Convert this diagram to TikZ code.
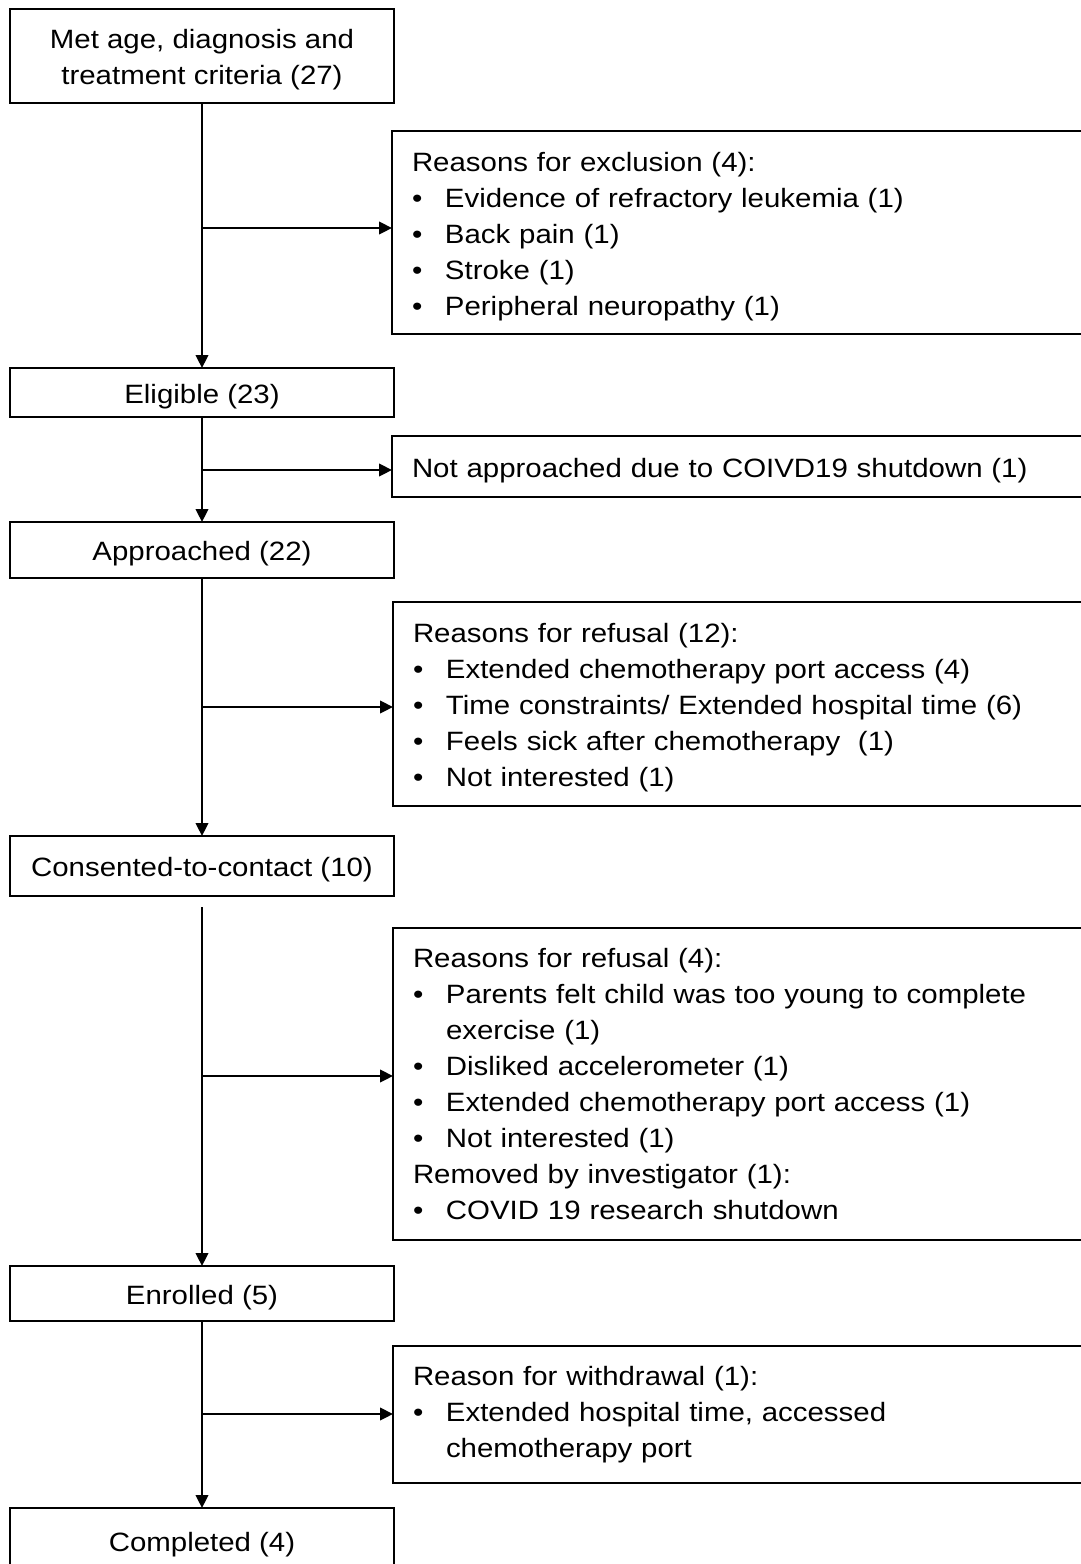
\documentclass[tikz,border=0pt]{standalone}
\usepackage{fontspec}
\setmainfont[FakeStretch=1.11]{Liberation Sans}
\usetikzlibrary{arrows.meta}
\newcommand{\bl}{\makebox[33pt][l]{\textbullet}}
\newcommand{\cont}{\hspace*{33pt}}
\newcommand{\tp}{\rule{0pt}{27pt}}
\newcommand{\tq}{\rule{0pt}{19pt}}
\tikzset{
  mainbox/.style={draw, line width=2.6pt, outer sep=0pt, inner sep=0pt,
    minimum width=384pt, align=center, font=\fontsize{26.5}{36}\selectfont},
  sidebox/.style={draw, line width=2.6pt, outer sep=0pt, anchor=west,
    inner xsep=20pt, inner ysep=0pt, text width=680pt, align=left,
    font=\fontsize{26.5}{36}\selectfont},
  arr/.style={line width=2.4pt, -{Triangle[length=13pt,width=12.5pt]}}
}
\begin{document}
\begin{tikzpicture}[x=1pt,y=-1pt]
\useasboundingbox (0,0) rectangle (1081,1564);
\clip (0,0) rectangle (1081,1564);
\fill[white] (0,0) rectangle (1081,1564);

% main column
\node[mainbox, minimum height=94pt] (met) at (202,56)
  {\tp Met age, diagnosis and\\treatment criteria (27)};
\node[mainbox, minimum height=49pt] (elig) at (202,392.5) {\tp Eligible (23)};
\node[mainbox, minimum height=56pt] (appr) at (202,550) {\tp Approached (22)};
\node[mainbox, minimum height=60pt] (cons) at (202,866) {\tp Consented-to-contact (10)};
\node[mainbox, minimum height=55pt] (enr) at (202,1293.5) {\tp Enrolled (5)};
\node[mainbox, minimum height=66pt] (comp) at (202,1541) {\tp Completed (4)};

% side boxes
\node[sidebox, minimum height=203pt] (excl) at (392,232.5)
  {\tp Reasons for exclusion (4):\\
   \bl Evidence of refractory leukemia (1)\\
   \bl Back pain (1)\\
   \bl Stroke (1)\\
   \bl Peripheral neuropathy (1)};
\node[sidebox, minimum height=61pt] (napp) at (392,466.5)
  {\tp Not approached due to COIVD19 shutdown (1)};
\node[sidebox, minimum height=204pt] (ref1) at (393,704)
  {\tp Reasons for refusal (12):\\
   \bl Extended chemotherapy port access (4)\\
   \bl Time constraints/ Extended hospital time (6)\\
   \bl Feels sick after chemotherapy~ (1)\\
   \bl Not interested (1)};
\node[sidebox, minimum height=312pt] (ref2) at (393,1084)
  {\tq Reasons for refusal (4):\\
   \bl Parents felt child was too young to complete\\
   \cont exercise (1)\\
   \bl Disliked accelerometer (1)\\
   \bl Extended chemotherapy port access (1)\\
   \bl Not interested (1)\\
   Removed by investigator (1):\\
   \bl COVID 19 research shutdown};
\node[sidebox, minimum height=137pt] (wd) at (393,1414.5)
  {\tq Reason for withdrawal (1):\\
   \bl Extended hospital time, accessed\\
   \cont chemotherapy port};

% junctions
\coordinate (j1) at (202,228);
\coordinate (j2) at (202,470);
\coordinate (j3) at (202,707);
\coordinate (s4) at (202,907);
\coordinate (j4) at (202,1076);
\coordinate (j5) at (202,1414);

% spine
\draw[arr] (met.south) -- (elig.north);
\draw[arr] (elig.south) -- (appr.north);
\draw[arr] (appr.south) -- (cons.north);
\draw[arr] (s4) -- (enr.north);
\draw[arr] (enr.south) -- (comp.north);

% branches
\draw[arr] (j1) -- (j1 -| excl.west);
\draw[arr] (j2) -- (j2 -| napp.west);
\draw[arr] (j3) -- (j3 -| ref1.west);
\draw[arr] (j4) -- (j4 -| ref2.west);
\draw[arr] (j5) -- (j5 -| wd.west);
\end{tikzpicture}
\end{document}
